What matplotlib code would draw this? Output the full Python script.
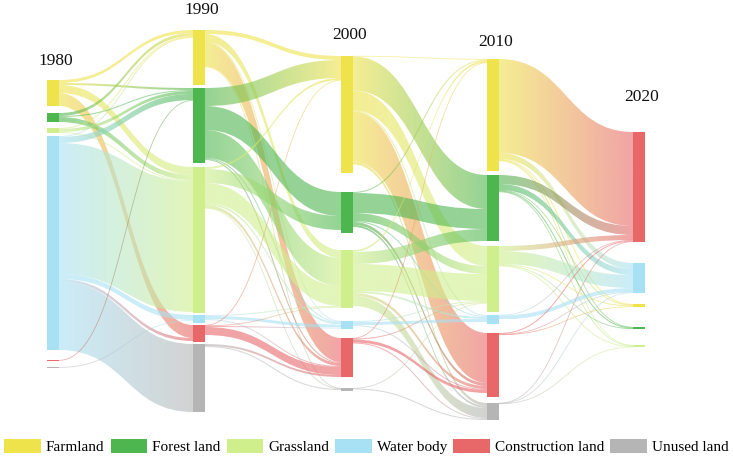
import matplotlib
matplotlib.use('Agg')
import matplotlib.pyplot as plt
import numpy as np
from matplotlib.path import Path
from matplotlib.patches import PathPatch, Rectangle, Patch
from matplotlib.collections import LineCollection
from matplotlib.colors import to_rgba

plt.rcParams['font.family'] = ['Liberation Serif', 'DejaVu Serif']

# ---------------- data ----------------
years = ['1980', '1990', '2000', '2010', '2020']
land_types = ['Farmland', 'Forest land', 'Grassland', 'Water body',
              'Construction land', 'Unused land']
FA, FO, GR, WA, CO, UN = range(6)

# node sizes per year (order of land_types)
nodes_1980 = [26, 9, 5, 214, 1, 1]
nodes_1990 = [55, 75, 146, 8, 17, 68]
nodes_2000 = [117, 41, 58, 8, 39, 3]
nodes_2010 = [112, 66, 66, 9, 64, 17]
nodes_2020 = [3, 2, 2, 30, 110, 0]

# flows (source type, target type, value)
flows_1980_1990 = [
    (FA, FA, 3), (FA, FO, 2), (FA, GR, 8), (FA, CO, 13),
    (FO, FA, 3), (FO, FO, 1), (FO, GR, 5),
    (GR, FA, 1), (GR, FO, 3), (GR, GR, 1),
    (WA, FA, 1), (WA, FO, 6), (WA, GR, 131), (WA, WA, 5), (WA, CO, 3), (WA, UN, 68),
    (CO, FO, 0.7),
    (UN, WA, 0.8),
]
flows_1990_2000 = [
    (FA, FA, 4), (FA, GR, 8), (FA, WA, 0.5), (FA, CO, 24), (FA, UN, 0.5),
    (FO, FA, 18), (FO, FO, 24), (FO, GR, 28), (FO, WA, 1), (FO, CO, 1),
    (GR, FA, 2), (GR, FO, 14), (GR, GR, 20), (GR, WA, 2), (GR, CO, 3), (GR, UN, 0.5),
    (WA, GR, 1), (WA, WA, 3), (WA, CO, 1),
    (CO, FA, 0.5), (CO, GR, 0.5), (CO, WA, 1), (CO, CO, 8),
    (UN, CO, 2), (UN, UN, 1),
]
flows_2000_2010 = [
    (FA, FA, 0.5), (FA, FO, 34), (FA, GR, 20), (FA, WA, 1), (FA, CO, 50), (FA, UN, 3),
    (FO, FA, 1), (FO, FO, 20), (FO, GR, 8), (FO, WA, 1), (FO, CO, 3), (FO, UN, 2),
    (GR, FA, 2), (GR, FO, 12), (GR, GR, 27), (GR, WA, 2), (GR, CO, 3), (GR, UN, 10),
    (WA, GR, 1), (WA, WA, 3), (WA, CO, 1),
    (CO, FA, 0.5), (CO, GR, 1), (CO, CO, 3), (CO, UN, 1),
    (UN, GR, 0.5), (UN, UN, 1),
]
flows_2010_2020 = [
    (FA, CO, 94), (FA, WA, 6), (FA, FA, 1), (FA, FO, 0.5), (FA, GR, 0.5),
    (FO, CO, 9), (FO, WA, 6), (FO, FA, 0.5), (FO, FO, 1), (FO, GR, 0.5),
    (GR, CO, 5), (GR, WA, 13), (GR, FA, 1), (GR, FO, 0.3), (GR, GR, 1),
    (WA, CO, 0.5), (WA, WA, 4),
    (CO, CO, 1), (CO, WA, 0.5), (CO, FA, 0.5),
    (UN, WA, 0.3), (UN, CO, 0.3), (UN, GR, 0.3),
]

# ---------------- layout / style ----------------
colors = ['#EFE34B', '#4DB64F', '#CFEF8C', '#A9E1F4', '#E8686A', '#B5B5B5']
col_x = [47, 193, 341, 487, 633]
node_w = 12
node_tops = [
    [80, 113, 128, 136, 360, 367],
    [30, 88, 167, 315, 325, 344],
    [56, 192, 250, 321, 338, 388],
    [59, 175, 246, 315, 333, 403],
    [304, 327, 345, 263, 132, 360],
]
label_y = [61, 10, 35, 42, 97]
link_alpha = 0.6

nodes = [nodes_1980, nodes_1990, nodes_2000, nodes_2010, nodes_2020]
transitions = [flows_1980_1990, flows_1990_2000, flows_2000_2010, flows_2010_2020]

fig = plt.figure(figsize=(7.33, 4.57), dpi=100)
ax = fig.add_axes([0, 0, 1, 1])
ax.set_xlim(0, 733)
ax.set_ylim(457, 0)
ax.axis('off')

rgb = [np.array(to_rgba(c)[:3]) for c in colors]


def draw_link(x0, x1, y0, y1, w, c0, c1):
    xm = (x0 + x1) / 2
    if w >= 1.2:
        verts = [(x0, y0), (xm, y0), (xm, y1), (x1, y1),
                 (x1, y1 + w), (xm, y1 + w), (xm, y0 + w), (x0, y0 + w), (x0, y0)]
        codes = [Path.MOVETO, Path.CURVE4, Path.CURVE4, Path.CURVE4,
                 Path.LINETO, Path.CURVE4, Path.CURVE4, Path.CURVE4, Path.CLOSEPOLY]
        patch = PathPatch(Path(verts, codes), facecolor='none', edgecolor='none',
                          transform=ax.transData)
        ax.add_patch(patch)
        g = np.linspace(0, 1, 256)[:, None]
        img = np.zeros((1, 256, 4))
        img[0, :, :3] = c0 * (1 - g) + c1 * g
        img[0, :, 3] = link_alpha
        im = ax.imshow(img, extent=(x0, x1, max(y0, y1) + w, min(y0, y1)),
                       aspect='auto', interpolation='bilinear', zorder=1)
        im.set_clip_path(patch)
    else:
        t = np.linspace(0, 1, 80)
        a = y0 + w / 2
        b = y1 + w / 2
        bx = (1 - t) ** 3 * x0 + 3 * (1 - t) ** 2 * t * xm + 3 * (1 - t) * t ** 2 * xm + t ** 3 * x1
        by = (1 - t) ** 3 * a + 3 * (1 - t) ** 2 * t * a + 3 * (1 - t) * t ** 2 * b + t ** 3 * b
        pts = np.column_stack([bx, by])
        segs = np.stack([pts[:-1], pts[1:]], axis=1)
        tm = (t[:-1] + t[1:]) / 2
        cols = [(*(c0 * (1 - s) + c1 * s), 0.55) for s in tm]
        lc = LineCollection(segs, colors=cols, linewidths=max(w, 0.8) * 0.72, zorder=1)
        ax.add_collection(lc)


for t, flows in enumerate(transitions):
    tops_s = node_tops[t]
    tops_t = node_tops[t + 1]
    src_off = {}
    tgt_off = {}
    for s in range(6):
        out = [f for f in flows if f[0] == s]
        out.sort(key=lambda f: tops_t[f[1]])
        acc = tops_s[s]
        for f in out:
            src_off[(f[0], f[1])] = acc
            acc += f[2]
    for d in range(6):
        inc = [f for f in flows if f[1] == d]
        inc.sort(key=lambda f: tops_s[f[0]])
        acc = tops_t[d]
        for f in inc:
            tgt_off[(f[0], f[1])] = acc
            acc += f[2]
    x0 = col_x[t] + node_w
    x1 = col_x[t + 1]
    for s, d, v in flows:
        draw_link(x0, x1, src_off[(s, d)], tgt_off[(s, d)], v, rgb[s], rgb[d])

for c, vals in enumerate(nodes):
    for i, v in enumerate(vals):
        if v <= 0:
            continue
        ax.add_patch(Rectangle((col_x[c], node_tops[c][i]), node_w, v,
                               facecolor=colors[i], edgecolor='none', zorder=3))
    ax.text(col_x[c] + node_w / 2 + 3, label_y[c], years[c], ha='center', va='center',
            fontsize=12.5, color='#111111', zorder=4)

ax.set_xlim(0, 733)
ax.set_ylim(457, 0)

handles = [Patch(facecolor=colors[i], edgecolor='none') for i in range(6)]
fig.legend(handles, land_types, loc='lower center', bbox_to_anchor=(0.5, 0.0),
           ncol=6, frameon=False, fontsize=11, handlelength=2.4, handleheight=1.05,
           handletextpad=0.33, columnspacing=0.4, borderaxespad=0.0, borderpad=0.2)

fig.savefig('out.png', dpi=100)
